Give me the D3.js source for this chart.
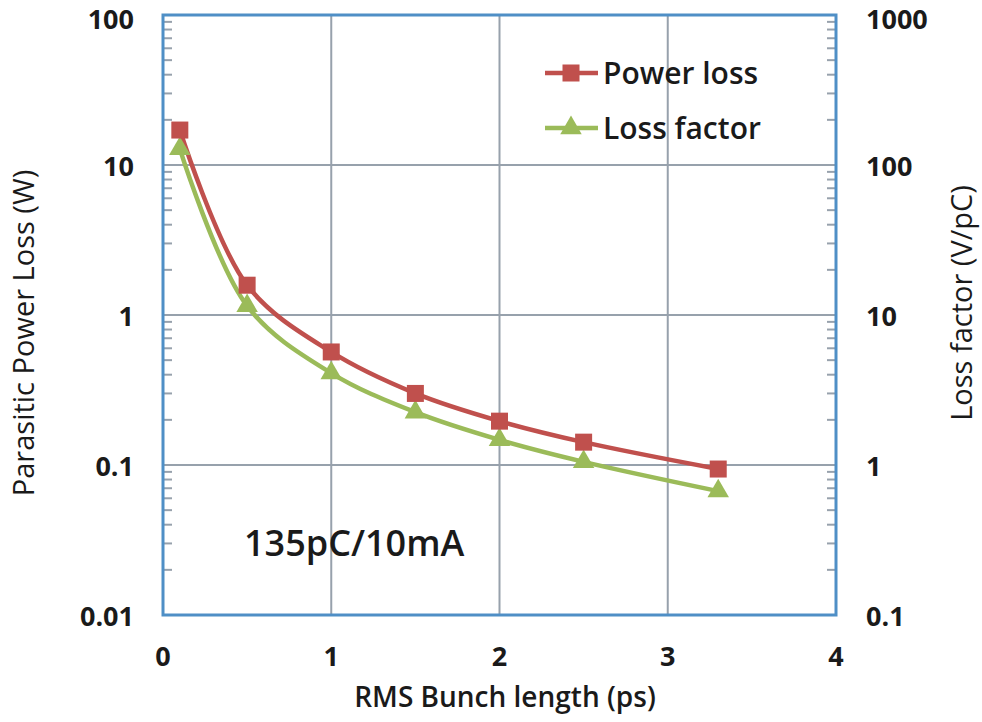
<!DOCTYPE html>
<html><head><meta charset="utf-8">
<script src="https://cdn.jsdelivr.net/npm/d3@7"></script>
<style>body{margin:0;background:#fff}svg{display:block}text{font-family:"Open Sans",Lato,sans-serif}</style>
</head><body>
<svg id="c" width="982" height="722"></svg>
<script>
const bunchLength = [0.1, 0.5, 1, 1.5, 2, 2.5, 3.3];
const powerLoss = [17.1, 1.58, 0.567, 0.30, 0.196, 0.142, 0.094];
const lossFactor = [128, 11.5, 4.1, 2.25, 1.47, 1.05, 0.67];
const xTicks = [0, 1, 2, 3, 4];
const yLeftTicks = [0.01, 0.1, 1, 10, 100];
const yLeftLabels = ["0.01", "0.1", "1", "10", "100"];
const yRightTicks = [0.1, 1, 10, 100, 1000];
const yRightLabels = ["0.1", "1", "10", "100", "1000"];
const seriesNames = ["Power loss", "Loss factor"];

const L = 163, R = 836, T = 15, B = 615;
const svg = d3.select("#c");
const x = d3.scaleLinear().domain([0, 4]).range([L, R]);
const yL = d3.scaleLog().domain([0.01, 100]).range([B, T]);
const yR = d3.scaleLog().domain([0.1, 1000]).range([B, T]);
const red = "#C0504D", green = "#9BBB59", blue = "#4F8FC6", grid = "#97A1AC", ink = "#1a1a1a";

// gridlines
svg.append("g").selectAll("line").data(xTicks.slice(1, -1)).join("line")
  .attr("x1", d => x(d)).attr("x2", d => x(d)).attr("y1", T).attr("y2", B)
  .attr("stroke", grid).attr("stroke-width", 2);
svg.append("g").selectAll("line").data(yLeftTicks.slice(1, -1)).join("line")
  .attr("x1", L).attr("x2", R).attr("y1", d => yL(d)).attr("y2", d => yL(d))
  .attr("stroke", grid).attr("stroke-width", 2);

// minor ticks
const minors = [];
for (let e = -2; e < 2; e++) for (let m = 2; m <= 9; m++) minors.push(m * Math.pow(10, e));
svg.append("g").selectAll("line").data(minors).join("line")
  .attr("x1", L).attr("x2", L + 9).attr("y1", d => yL(d)).attr("y2", d => yL(d))
  .attr("stroke", grid).attr("stroke-width", 2);
svg.append("g").selectAll("line").data(minors).join("line")
  .attr("x1", R - 9).attr("x2", R).attr("y1", d => yL(d)).attr("y2", d => yL(d))
  .attr("stroke", grid).attr("stroke-width", 2);

// frame
svg.append("rect").attr("x", L).attr("y", T).attr("width", R - L).attr("height", B - T)
  .attr("fill", "none").attr("stroke", blue).attr("stroke-width", 3);

// tick labels
const tf = "bold 27px 'Open Sans'";
const by = v => Math.max(v + 11, 29);
svg.append("g").selectAll("text").data(xTicks).join("text")
  .attr("x", d => x(d)).attr("y", 666).attr("text-anchor", "middle")
  .style("font", tf).attr("fill", ink).text(d => d);
svg.append("g").selectAll("text").data(yLeftTicks).join("text")
  .attr("x", 134).attr("y", d => by(yL(d))).attr("text-anchor", "end")
  .style("font", tf).attr("fill", ink).text((d, i) => yLeftLabels[i]);
svg.append("g").selectAll("text").data(yRightTicks).join("text")
  .attr("x", 866).attr("y", d => by(yR(d))).attr("text-anchor", "start")
  .style("font", tf).attr("fill", ink).text((d, i) => yRightLabels[i]);

// axis titles
svg.append("text").attr("x", 505).attr("y", 707).attr("text-anchor", "middle")
  .style("font", "600 28px 'Open Sans'").attr("fill", ink).text("RMS Bunch length (ps)");
svg.append("text").attr("transform", "translate(34,333) rotate(-90)").attr("text-anchor", "middle")
  .style("font", "29px 'Open Sans'").attr("fill", ink).text("Parasitic Power Loss (W)");
svg.append("text").attr("transform", "translate(972,303) rotate(-90)").attr("text-anchor", "middle")
  .style("font", "29px 'Open Sans'").attr("fill", ink).text("Loss factor (V/pC)");

// annotation
svg.append("text").attr("x", 244).attr("y", 556)
  .style("font", "600 36px 'Open Sans'").attr("fill", ink).text("135pC/10mA");

// lines
const line = d3.line().curve(d3.curveCatmullRom.alpha(0.5));
const ptsP = bunchLength.map((v, i) => [x(v), yL(powerLoss[i])]);
const ptsF = bunchLength.map((v, i) => [x(v), yR(lossFactor[i])]);
svg.append("path").attr("d", line(ptsF)).attr("fill", "none").attr("stroke", green).attr("stroke-width", 4.5);
svg.append("path").attr("d", line(ptsP)).attr("fill", "none").attr("stroke", red).attr("stroke-width", 4.5);
const tri = d3.symbol().type(d3.symbolTriangle).size(200);
svg.append("g").selectAll("path").data(ptsF).join("path")
  .attr("transform", d => `translate(${d[0]},${d[1]})`).attr("d", tri).attr("fill", green);
svg.append("g").selectAll("rect").data(ptsP).join("rect")
  .attr("x", d => d[0] - 8.5).attr("y", d => d[1] - 8.5).attr("width", 17).attr("height", 17).attr("fill", red);

// legend
const lg = svg.append("g");
[[red, 73], [green, 128]].forEach(([c, yy], i) => {
  lg.append("line").attr("x1", 545).attr("x2", 598).attr("y1", yy).attr("y2", yy).attr("stroke", c).attr("stroke-width", 4.5);
  if (i === 0) lg.append("rect").attr("x", 562.5).attr("y", yy - 8.5).attr("width", 17).attr("height", 17).attr("fill", c);
  else lg.append("path").attr("transform", `translate(571,${yy})`).attr("d", tri).attr("fill", c);
  lg.append("text").attr("x", 603).attr("y", yy + 11).style("font", "600 30px 'Open Sans'").attr("fill", ink).text(seriesNames[i]);
});
</script>
</body></html>
